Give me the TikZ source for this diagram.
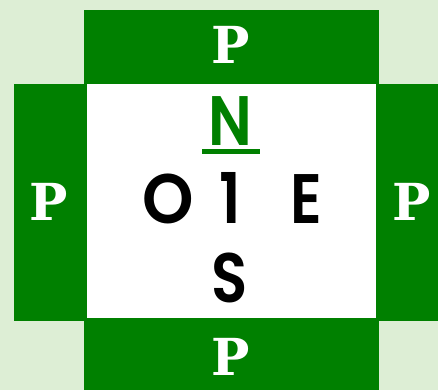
\documentclass[tikz,border=0pt]{standalone}
\usepackage{fontspec}
\newfontfamily\pfont{DejaVu Serif}
\newfontfamily\gfont{Poppins SemiBold}
\definecolor{dgreen}{RGB}{0,128,0}
\definecolor{lgreen}{RGB}{221,238,213}
\begin{document}
\begin{tikzpicture}[x=1pt,y=-1pt,
  bar/.style={fill=dgreen},
  plet/.style={anchor=base,inner sep=0pt,text=white,font=\pfont\bfseries\fontsize{51}{51}\selectfont},
  glet/.style={anchor=base,inner sep=0pt,text=black,font=\gfont\fontsize{70}{70}\selectfont,xscale=0.85}]
\useasboundingbox (0,0) rectangle (438,390);
\fill[lgreen] (0,0) rectangle (438,390);
\fill[white] (87,84) rectangle (376,318);
\fill[bar] (84,10) rectangle (379,84);
\fill[bar] (84,318) rectangle (379,390);
\fill[bar] (14,84) rectangle (87,321);
\fill[bar] (376,84) rectangle (438,321);
\node[plet] (pt) at (231,64) {P};
\node[plet] (pl) at (49,220) {P};
\node[plet] (pr) at (412,220) {P};
\node[plet] (pb) at (231,375) {P};
\node[glet,text=dgreen] (n) at (230,146) {N};
\fill[dgreen] (202,149) rectangle (260,154);
\node[glet,xscale=1.1] (o) at (168,223) {O};
\node[glet] (one) at (230,223) {1};
\node[glet] (e) at (306,223) {E};
\node[glet] (s) at (230,302) {S};
\end{tikzpicture}
\end{document}
